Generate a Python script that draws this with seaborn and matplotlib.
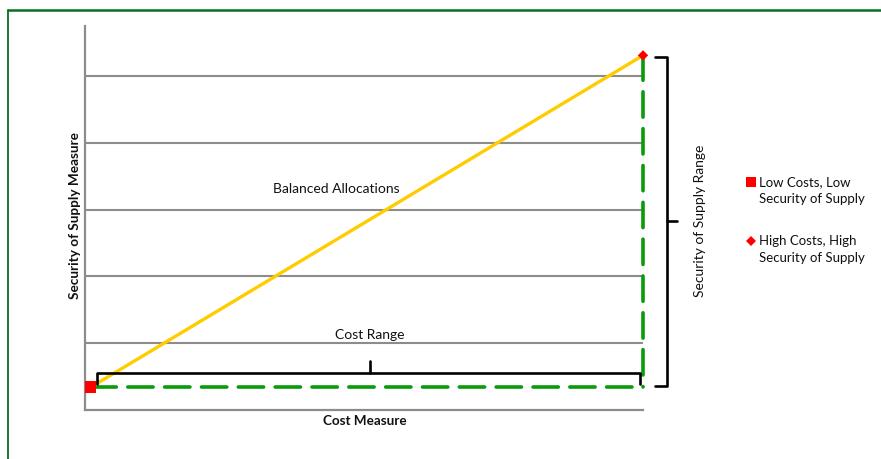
import matplotlib
matplotlib.use("Agg")
import matplotlib.pyplot as plt
from matplotlib.lines import Line2D
import seaborn as sns
import pandas as pd

# Endpoints of the allocation frontier
scenarios = ["Low Costs, Low\nSecurity of Supply", "High Costs, High\nSecurity of Supply"]
cost_measure = [0.1, 10.0]
security_measure = [0.34, 5.31]
grid_levels = [1, 2, 3, 4, 5]

sns.set_theme(style="white")
plt.rcParams["font.family"] = ["Lato", "DejaVu Sans"]

df = pd.DataFrame({"cost": cost_measure, "security": security_measure, "scenario": scenarios})

fig = plt.figure(figsize=(8.81, 4.59), dpi=100)
ax = fig.add_axes([85 / 881, 1 - 410 / 459, (643 - 85) / 881, (410 - 26) / 459])
ax.set_xlim(0, 10)
ax.set_ylim(0, 5.75)

grey = "#8c8c8c"
for lvl in grid_levels:
    ax.axhline(lvl, color=grey, lw=1.5, zorder=1)

for side in ["top", "right"]:
    ax.spines[side].set_visible(False)
for side in ["left", "bottom"]:
    ax.spines[side].set_color(grey)
    ax.spines[side].set_linewidth(1.6)
ax.set_xticks([])
ax.set_yticks([])

# Green dashed ranges along the cost and security axes
green = "#0a9a0a"
ax.plot([cost_measure[0], cost_measure[1]], [security_measure[0], security_measure[0]],
        color=green, lw=2.6, dashes=(7, 3.2), dash_capstyle="round", zorder=3, clip_on=False)
ax.plot([cost_measure[1], cost_measure[1]], [security_measure[1], security_measure[0]],
        color=green, lw=2.6, dashes=(7, 3.2), dash_capstyle="round", zorder=3, clip_on=False)

# Balanced allocations line
sns.lineplot(data=df, x="cost", y="security", color="#ffcc00", lw=2.4, ax=ax, zorder=4)
ax.lines[-1].set_clip_on(False)

# Endpoint markers
sns.scatterplot(data=df.iloc[[0]], x="cost", y="security", marker="s", s=70, color="#ff0000",
                edgecolor="none", ax=ax, zorder=5, clip_on=False)
sns.scatterplot(data=df.iloc[[1]], x="cost", y="security", marker="D", s=28, color="#ff0000",
                edgecolor="none", ax=ax, zorder=5, clip_on=False)

# Braces marking the ranges
brace_kw = dict(color="black", lw=1.9, solid_joinstyle="round", solid_capstyle="round",
                clip_on=False, zorder=4)
bx0, bx1, by, bend, bmid, btip = 0.22, 9.95, 0.55, 0.39, 5.1, 0.73
ax.plot([bx0, bx0, bx1, bx1], [bend, by, by, bend], **brace_kw)
ax.plot([bmid, bmid], [by, btip], **brace_kw)

vx, vend, vy0, vy1, vmid, vtip = 10.43, 10.21, 0.36, 5.28, 2.83, 10.61
ax.plot([vend, vx, vx, vend], [vy1, vy1, vy0, vy0], **brace_kw)
ax.plot([vx, vtip], [vmid, vmid], **brace_kw)

ax.set_xlabel("")
ax.set_ylabel("")

fs = 10
ink = "#111111"
ax.text(bmid, 1.13, "Cost Range", ha="center", va="center", fontsize=fs, color=ink)
ax.text(4.5, 3.31, "Balanced Allocations", ha="center", va="center", fontsize=fs, color=ink)
fig.text(700 / 881, 1 - 221 / 459, "Security of Supply Range", rotation=90, ha="center",
         va="center", fontsize=fs, color=ink)
fig.text(75 / 881, 1 - 216 / 459, "Security of Supply Measure", rotation=90, ha="center",
         va="center", fontsize=9.8, fontweight="bold", color=ink)
fig.text(365 / 881, 1 - 421 / 459, "Cost Measure", ha="center", va="center", fontsize=9.7,
         fontweight="bold", color=ink)

# Legend
legend_markers = ["s", "D"]
legend_sizes = [7.5, 5]
legend_y = [182, 241]
for label, mk, ms, py in zip(scenarios, legend_markers, legend_sizes, legend_y):
    fig.add_artist(Line2D([751 / 881], [1 - py / 459], marker=mk, markersize=ms,
                          color="#ff0000", markeredgewidth=0, linestyle="none"))
    fig.text(759 / 881, 1 - (py - 6) / 459, label, ha="left", va="top", fontsize=9.5,
             color=ink, linespacing=1.5)

# Outer frame (top and left edges)
frame = "#0a6e1e"
fig.add_artist(Line2D([8 / 881, 8 / 881], [0, 1 - 10 / 459], color=frame, lw=1.3))
fig.add_artist(Line2D([8 / 881, 1], [1 - 10 / 459, 1 - 10 / 459], color=frame, lw=1.8))

fig.savefig("out.png", dpi=100)
